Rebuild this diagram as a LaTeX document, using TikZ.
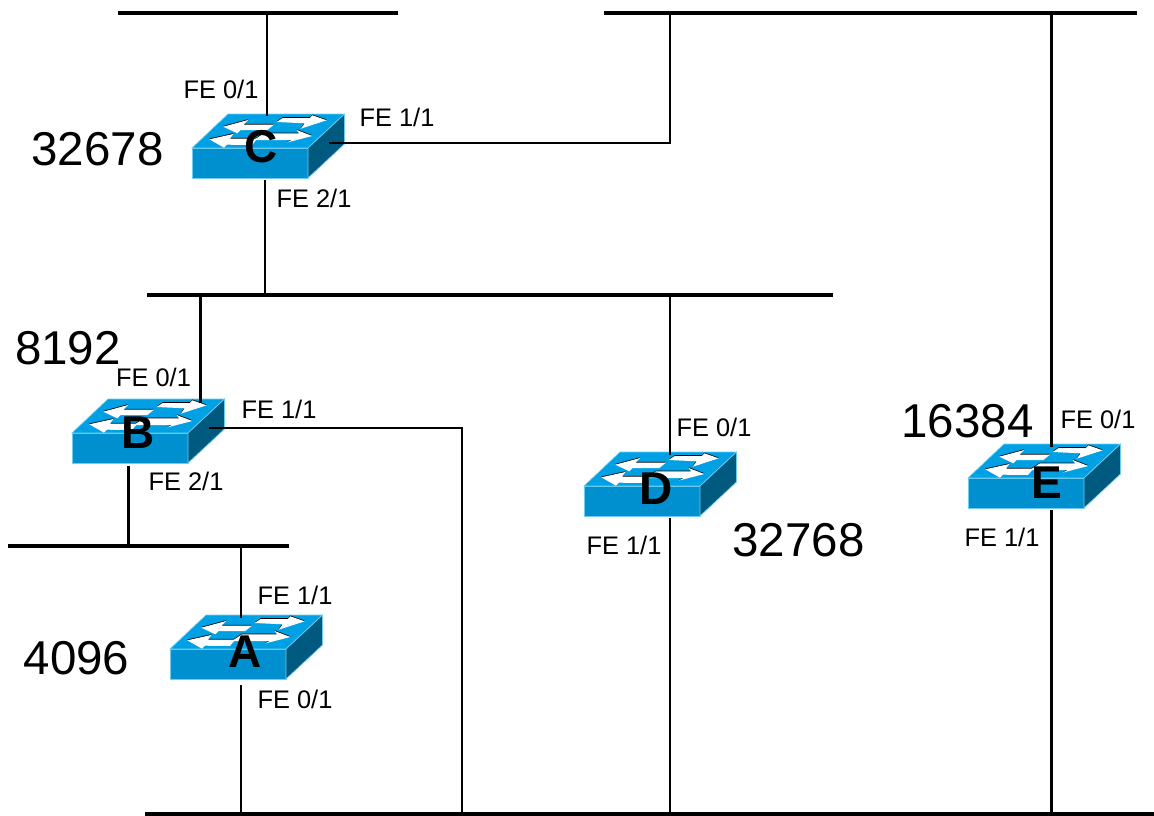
\documentclass[tikz,border=0pt]{standalone}
\usepackage{fontspec}
\setmainfont{Liberation Sans}
\usetikzlibrary{positioning}

\definecolor{swfront}{HTML}{0090D0}
\definecolor{swtop}{HTML}{00A0E4}
\definecolor{swside}{HTML}{005A80}
\definecolor{swedge}{HTML}{70CDF0}

\newcommand{\swarrows}{
    \path[fill] (84.7,-56) -- (90.7,-60) -- (118,-60) -- (120.3,-62.7) -- (134.7,-57.7) -- (108.7,-49.3) -- (112.7,-54.7) -- cycle;
    \path[fill] (31.3,-51.3) -- (56,-58) -- (51.3,-53.3) -- (82,-53.3) -- (75.3,-48) -- (48.7,-48) -- (45.3,-44.7) -- cycle;
    \path[fill] (120.3,-42) -- (104.7,-48) -- (107,-44.7) -- (72,-44.7) -- (62,-38) -- (100,-38) -- (95,-35.5) -- cycle;
    \path[fill] (17.3,-38.7) -- (41.3,-44) -- (38,-39.3) -- (65.3,-39.3) -- (60,-33) -- (35,-33.3) -- (32,-30.3) -- cycle;
}

\tikzset{
    switch/.pic={
        \draw[swedge, fill=swfront, line width=0.7pt] (0,0) rectangle (116,-30);
        \draw[swedge, fill=swtop, line width=0.7pt] (0,-30) -- (36,-64) -- (152.5,-64) -- (116,-30) -- cycle;
        \draw[swedge, fill=swside, line width=0.7pt] (116,0) -- (116,-30) -- (152.5,-64) -- (152.5,-34) -- cycle;
        \begin{scope}[yshift=0.8pt, black]
            \swarrows
        \end{scope}
        \begin{scope}[white]
            \swarrows
        \end{scope}
    },
    bus/.style={line width=4.4pt},
    link/.style={line width=2.2pt},
    port/.style={font=\fontsize{25.4}{30}\selectfont, inner sep=0pt},
    prio/.style={font=\fontsize{47.5}{56}\selectfont, inner sep=0pt},
    swname/.style={font=\fontsize{46}{54}\selectfont\bfseries, inner sep=0pt}
}

\begin{document}
\begin{tikzpicture}[x=1pt, y=-1pt]
\useasboundingbox (0,0) rectangle (1154,816);

% Segments
\coordinate (busTopLa) at (118,13);
\coordinate (busTopLb) at (398,13);
\coordinate (busTopRa) at (604,13);
\coordinate (busTopRb) at (1137,13);
\coordinate (busMida) at (147,295);
\coordinate (busMidb) at (833,295);
\coordinate (busLowa) at (8,546);
\coordinate (busLowb) at (289,546);
\coordinate (busBota) at (145,814);
\coordinate (busBotb) at (1154,814);

\draw[bus] (busTopLa) -- (busTopLb);
\draw[bus] (busTopRa) -- (busTopRb);
\draw[bus] (busMida) -- (busMidb);
\draw[bus] (busLowa) -- (busLowb);
\draw[bus] (busBota) -- (busBotb);

% Switches
\pic (swC) at (192,178) {switch};
\pic (swB) at (72,463) {switch};
\pic (swA) at (170,679) {switch};
\pic (swD) at (584,516) {switch};
\pic (swE) at (968,508) {switch};

% Port ends
\coordinate (cUp) at (267,116);
\coordinate (cRight) at (329,143);
\coordinate (cDown) at (265,180);
\coordinate (bUp) at (200.5,403);
\coordinate (bRight) at (209,428);
\coordinate (bDown) at (128.5,466);
\coordinate (aUp) at (241,618);
\coordinate (aDown) at (241,685);
\coordinate (dUp) at (670,455);
\coordinate (dDown) at (670,518);
\coordinate (eUp) at (1051.5,447);
\coordinate (eDown) at (1051.5,510);
\coordinate (cCorner) at (670,143);
\coordinate (bCorner) at (462,428);

% Links
\draw[link] (cUp) -- (cUp |- busTopLa);
\draw[link] (cRight) -- (cCorner) -- (cCorner |- busTopRa);
\draw[link] (cDown) -- (cDown |- busMida);
\draw[link] (bUp) -- (bUp |- busMida);
\draw[link] (bRight) -- (bCorner) -- (bCorner |- busBota);
\draw[link] (bDown) -- (bDown |- busLowa);
\draw[link] (aUp) -- (aUp |- busLowa);
\draw[link] (aDown) -- (aDown |- busBota);
\draw[link] (dUp) -- (dUp |- busMida);
\draw[link] (dDown) -- (dDown |- busBota);
\draw[link] (eUp) -- (eUp |- busTopRa);
\draw[link] (eDown) -- (eDown |- busBota);

% Switch names
\node[swname] (nameC) at (261,146.5) {C};
\node[swname] (nameB) at (138.5,432.5) {B};
\node[swname] (nameA) at (245.5,651.5) {A};
\node[swname] (nameD) at (656,488.5) {D};
\node[swname] (nameE) at (1047,482.5) {E};

% Priorities
\node[prio] (prioC) at (97.5,149.5) {32678};
\node[prio] (prioB) at (68,348.5) {8192};
\node[prio] (prioA) at (76.5,658.5) {4096};
\node[prio] (prioD) at (798.5,540.5) {32768};
\node[prio] (prioE) at (967.5,421.5) {16384};

% Ports
\node[port] (cFa) at (221,89.5) {FE 0/1};
\node[port] (cFb) at (397,117.5) {FE 1/1};
\node[port] (cFc) at (314,198.5) {FE 2/1};
\node[port] (bFa) at (153.5,377.5) {FE 0/1};
\node[port] (bFb) at (279,409.5) {FE 1/1};
\node[port] (bFc) at (186,481.5) {FE 2/1};
\node[port] (aFb) at (295,595.5) {FE 1/1};
\node[port] (aFa) at (295,699.5) {FE 0/1};
\node[port] (dFa) at (714,427.5) {FE 0/1};
\node[port] (dFb) at (624,545.5) {FE 1/1};
\node[port] (eFa) at (1098,419.5) {FE 0/1};
\node[port] (eFb) at (1002,537.5) {FE 1/1};

\end{tikzpicture}
\end{document}
